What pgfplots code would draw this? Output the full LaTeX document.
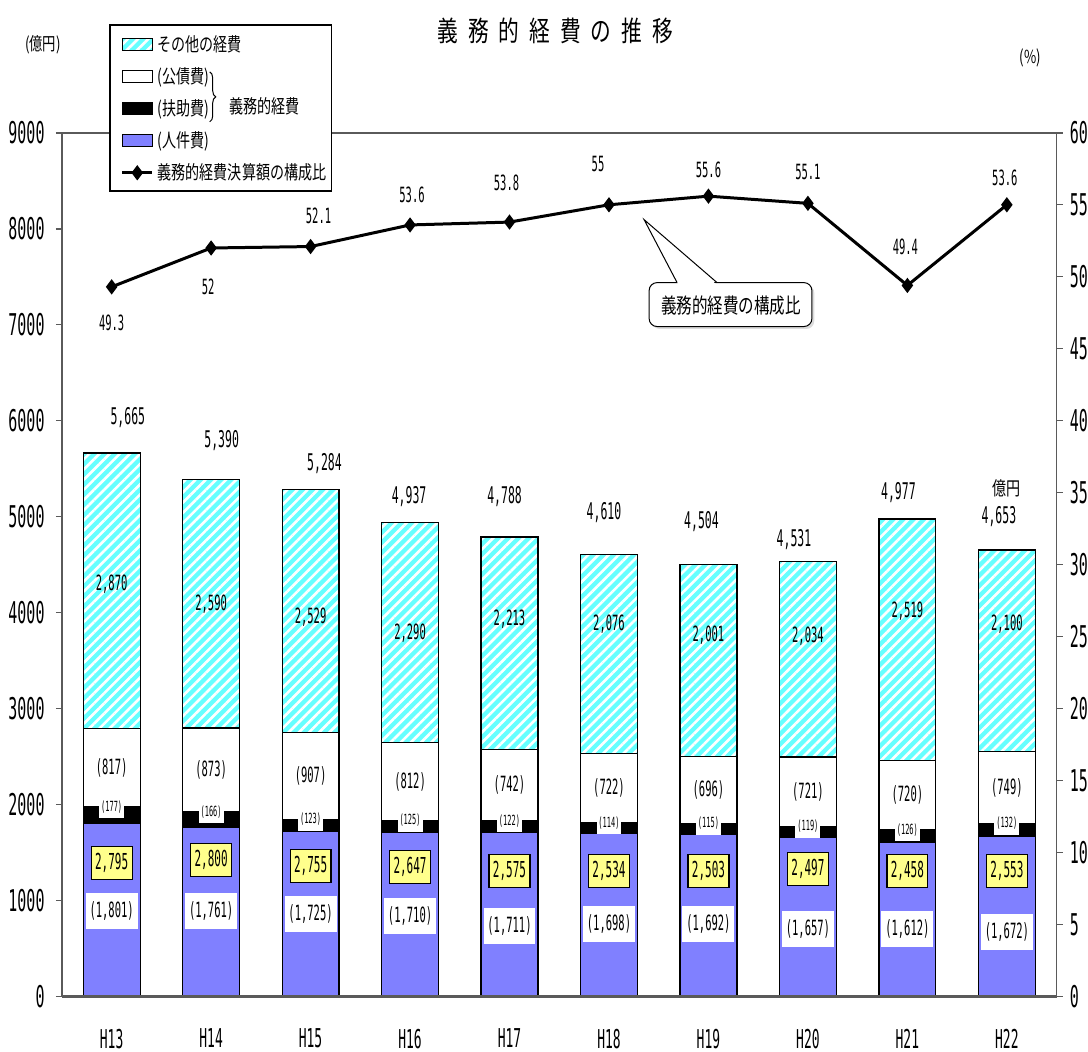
\documentclass[border=0pt]{standalone}
\usepackage{fontspec}
\usepackage{pgfplots}
\pgfplotsset{compat=1.18}
\usepackage{pgfplotstable}
\usetikzlibrary{patterns.meta,decorations.pathreplacing,shadows}
\setmainfont{Noto Sans CJK JP}
\newfontfamily\jp[FakeStretch=0.74]{Noto Sans CJK JP}
\newfontfamily\num[FakeStretch=0.5]{DejaVu Sans Mono}
\newcommand\fs[1]{\fontsize{#1}{#1}\selectfont}
\definecolor{pblue}{RGB}{128,128,255}
\definecolor{pcyan}{RGB}{102,255,255}
\definecolor{pyel}{RGB}{255,255,140}
\definecolor{axgray}{RGB}{90,90,90}
\tikzset{
  hatch/.style={fill=pcyan, postaction={pattern={Lines[angle=45,distance=3.6pt,line width=1.3pt]}, pattern color=white}},
  ylab/.style={draw=black, fill=pyel, font=\num\fs{11}, inner sep=1pt, minimum width=20.5pt, minimum height=16.5pt, line width=0.6pt},
  wlab/.style={fill=white, font=\num\fs{10.5}, inner sep=1pt, minimum width=26pt, minimum height=18pt},
  tlab/.style={fill=white, font=\num\fs{7}, inner sep=0.3pt, minimum width=12.5pt, minimum height=11.5pt},
  klab/.style={font=\num\fs{10.5}},
  totlab/.style={font=\num\fs{11.5}},
  llab/.style={font=\num\fs{10.5}},
}
\pgfplotsset{
  boxleg/.style={legend image code/.code={\draw[##1] (0pt,-3pt) rectangle (15pt,3pt);}},
  lineleg/.style={legend image code/.code={\draw[mark repeat=2,mark phase=2,##1] plot coordinates {(0pt,0pt) (7.5pt,0pt) (15pt,0pt)};}},
  common/.style={scale only axis, width=498pt, height=432.5pt, xmin=-0.5, xmax=9.5},
}
\pgfplotstableread{
x P F K O L
0 1801 177 817 2870 49.3
1 1761 166 873 2590 52.0
2 1725 123 907 2529 52.1
3 1710 125 812 2290 53.6
4 1711 122 742 2213 53.8
5 1698 114 722 2076 55.0
6 1692 115 696 2001 55.6
7 1657 119 721 2034 55.1
8 1612 126 720 2519 49.4
9 1672 132 749 2100 55.0
}\data
\begin{document}
\begin{tikzpicture}
\begin{scope}[x=0.5pt,y=-0.5pt,shift={(-31pt,499pt)}]
\useasboundingbox (0,0) rectangle (1088,1053);
\end{scope}
\begin{axis}[
  common, ymin=0, ymax=9000,
  ybar stacked, bar width=28.5pt,
  ytick={0,1000,...,9000},
  xtick={0,...,9}, xticklabels={H13,H14,H15,H16,H17,H18,H19,H20,H21,H22},
  ytick pos=left, tick align=outside, major tick length=3pt,
  xtick style={draw=none},
  axis line style={draw=axgray, line width=0.7pt},
  ytick style={draw=axgray, line width=0.7pt},
  yticklabel style={font=\num\fs{15}, inner sep=0pt, xshift=-5.5pt},
  xticklabel style={font=\num\fs{13}, inner sep=0pt, yshift=-13pt},
  /pgf/number format/assume math mode=true,
  /pgf/number format/set thousands separator={},
]
\addplot[fill=pblue, draw=black, line width=0.6pt] table[x=x,y=P]{\data};
\addplot[fill=black, draw=black, line width=0.6pt] table[x=x,y=F]{\data};
\addplot[fill=white, draw=black, line width=0.6pt] table[x=x,y=K]{\data};
\addplot[hatch, draw=black, line width=0.6pt] table[x=x,y=O]{\data};
\end{axis}
\begin{axis}[common, ymin=0, ymax=9000, hide axis, clip=false]
\draw[axgray, line width=1.4pt] (axis cs:-0.5,0) -- (axis cs:9.5,0);
% 人件費 labels
\node[wlab] at (axis cs:0,895) {(1,801)};
\node[wlab] at (axis cs:1,895) {(1,761)};
\node[wlab] at (axis cs:2,864) {(1,725)};
\node[wlab] at (axis cs:3,843) {(1,710)};
\node[wlab] at (axis cs:4,739) {(1,711)};
\node[wlab] at (axis cs:5,760) {(1,698)};
\node[wlab] at (axis cs:6,760) {(1,692)};
\node[wlab] at (axis cs:7,708) {(1,657)};
\node[wlab] at (axis cs:8,708) {(1,612)};
\node[wlab] at (axis cs:9,676) {(1,672)};
% 義務的経費 totals
\node[ylab] at (axis cs:0,1394) {2,795};
\node[ylab] at (axis cs:1,1425) {2,800};
\node[ylab] at (axis cs:2,1363) {2,755};
\node[ylab] at (axis cs:3,1353) {2,647};
\node[ylab] at (axis cs:4,1311) {2,575};
\node[ylab] at (axis cs:5,1311) {2,534};
\node[ylab] at (axis cs:6,1311) {2,503};
\node[ylab] at (axis cs:7,1332) {2,497};
\node[ylab] at (axis cs:8,1311) {2,458};
\node[ylab] at (axis cs:9,1311) {2,553};
% 扶助費 labels
\node[tlab] at (axis cs:0,1978) {(177)};
\node[tlab] at (axis cs:1,1927) {(166)};
\node[tlab] at (axis cs:2,1848) {(123)};
\node[tlab] at (axis cs:3,1835) {(125)};
\node[tlab] at (axis cs:4,1833) {(122)};
\node[tlab] at (axis cs:5,1812) {(114)};
\node[tlab] at (axis cs:6,1807) {(115)};
\node[tlab] at (axis cs:7,1776) {(119)};
\node[tlab] at (axis cs:8,1738) {(126)};
\node[tlab] at (axis cs:9,1804) {(132)};
% 公債費 labels
\node[klab] at (axis cs:0,2386) {(817)};
\node[klab] at (axis cs:1,2363) {(873)};
\node[klab] at (axis cs:2,2301) {(907)};
\node[klab] at (axis cs:3,2241) {(812)};
\node[klab] at (axis cs:4,2204) {(742)};
\node[klab] at (axis cs:5,2173) {(722)};
\node[klab] at (axis cs:6,2155) {(696)};
\node[klab] at (axis cs:7,2136) {(721)};
\node[klab] at (axis cs:8,2098) {(720)};
\node[klab] at (axis cs:9,2178) {(749)};
% その他 labels
\node[klab] at (axis cs:0,4297) {2,870};
\node[klab] at (axis cs:1,4089) {2,590};
\node[klab] at (axis cs:2,3954) {2,529};
\node[klab] at (axis cs:3,3787) {2,290};
\node[klab] at (axis cs:4,3933) {2,213};
\node[klab] at (axis cs:5,3881) {2,076};
\node[klab] at (axis cs:6,3767) {2,001};
\node[klab] at (axis cs:7,3756) {2,034};
\node[klab] at (axis cs:8,4016) {2,519};
\node[klab] at (axis cs:9,3881) {2,100};
% totals
\node[totlab] at (axis cs:0.163,6035) {5,665};
\node[totlab] at (axis cs:1.106,5795) {5,390};
\node[totlab] at (axis cs:2.14,5556) {5,284};
\node[totlab] at (axis cs:2.99,5213) {4,937};
\node[totlab] at (axis cs:3.95,5213) {4,788};
\node[totlab] at (axis cs:4.95,5046) {4,610};
\node[totlab] at (axis cs:5.93,4953) {4,504};
\node[totlab] at (axis cs:6.86,4765) {4,531};
\node[totlab] at (axis cs:7.91,5254) {4,977};
\node[totlab] at (axis cs:8.92,5005) {4,653};
\node[font=\jp\fs{9.5}] at (axis cs:9.0,5300) {億円};
\end{axis}
\begin{scope}[x=0.5pt,y=-0.5pt,shift={(-31pt,499pt)}]
% legend frame (white background)
\draw[line width=0.8pt, fill=white] (110,25) rectangle (332,191);
\end{scope}
\begin{axis}[
  common, ymin=0, ymax=60,
  axis y line*=right, axis x line=none,
  ytick={0,5,...,60}, tick align=outside, major tick length=3pt,
  axis line style={draw=axgray, line width=0.7pt},
  ytick style={draw=axgray, line width=0.7pt},
  yticklabel style={font=\num\fs{15}, inner sep=0pt, xshift=3.5pt},
  /pgf/number format/assume math mode=true,
  legend style={at={(0.0592,1.1202)}, anchor=north west, draw=none, fill=none,
    inner sep=0pt, outer sep=0pt, row sep=0pt, column sep=2pt,
    font=\jp\fs{9.5}, nodes={inner sep=0pt, minimum height=16pt}},
  legend cell align=left,
]
\addlegendimage{boxleg, hatch, draw=black, line width=0.5pt}
\addlegendentry{その他の経費}
\addlegendimage{boxleg, fill=white, draw=black, line width=0.5pt}
\addlegendentry{(公債費)}
\addlegendimage{boxleg, fill=black, draw=black}
\addlegendentry{(扶助費)}
\addlegendimage{boxleg, fill=pblue, draw=black, line width=0.5pt}
\addlegendentry{(人件費)}
\addplot[lineleg, black, line width=1.5pt, mark=diamond*, mark size=2.6pt]
  table[x=x,y=L]{\data};
\addlegendentry{義務的経費決算額の構成比}
\node[llab] at (axis cs:0,46.8) {49.3};
\node[llab] at (axis cs:0.97,49.3) {52};
\node[llab] at (axis cs:2.08,54.2) {52.1};
\node[llab] at (axis cs:3.02,55.7) {53.6};
\node[llab] at (axis cs:3.97,56.5) {53.8};
\node[llab] at (axis cs:4.89,57.8) {55};
\node[llab] at (axis cs:6.0,57.4) {55.6};
\node[llab] at (axis cs:7.0,57.3) {55.1};
\node[llab] at (axis cs:7.98,52.1) {49.4};
\node[llab] at (axis cs:8.98,56.9) {53.6};
\end{axis}
\begin{scope}[x=0.5pt,y=-0.5pt,shift={(-31pt,499pt)}]
% brace
\draw[line width=0.5pt, decorate, decoration={brace, amplitude=3pt}] (210,72) -- (210,122);
\node[font=\jp\fs{9.5}, anchor=west, inner sep=0pt] at (229,106) {義務的経費};
% title & units
\node[font=\jp\fs{14}] at (556,31) {義\hspace{5pt}務\hspace{5pt}的\hspace{5pt}経\hspace{5pt}費\hspace{5pt}の\hspace{5pt}推\hspace{5pt}移};
\node[font=\jp\fs{9}] at (43,45) {(億円)};
\node[font=\jp\fs{9}] at (1032,58) {(\%)};
% callout
\draw[line width=0.5pt, fill=white, rounded corners=4pt, drop shadow={shadow xshift=1.2pt, shadow yshift=-1.2pt, fill=gray!55}] (650,283) rectangle (813,327);
\fill[white] (679,284.6) -- (645,220) -- (717,284.6) -- cycle;
\draw[line width=0.5pt] (678,283) -- (645,220) -- (718,283);
\node[font=\jp\fs{10.5}] at (732,306) {義務的経費の構成比};
\end{scope}
\end{tikzpicture}
\end{document}
